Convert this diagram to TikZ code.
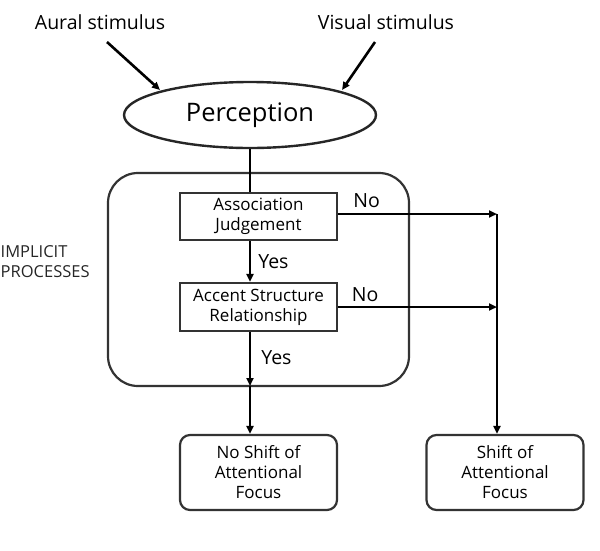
\documentclass[tikz,border=0pt]{standalone}
\usepackage{fontspec}
\setmainfont{Open Sans}
\usetikzlibrary{shapes.geometric,arrows.meta}
\begin{document}
\begin{tikzpicture}[x=1pt,y=-1pt,
  arr/.style={line width=2.6pt,-{Triangle[length=8pt,width=7pt]}},
  ln/.style={line width=2.6pt},
  boxs/.style={draw=black!80,line width=2.2pt,minimum width=157pt,align=center,font=\fontsize{17}{20}\selectfont,inner sep=0pt},
  endbox/.style={boxs,rounded corners=10pt,minimum height=75pt},
  lbl/.style={font=\fontsize{19.5}{22}\selectfont,inner sep=0pt}
]
\useasboundingbox (0,0) rectangle (600,550);
\node[lbl,font=\fontsize{19.5}{22}\selectfont] (aural) at (100,22) {Aural stimulus};
\node[lbl,font=\fontsize{19.5}{22}\selectfont] (visual) at (386,22) {Visual stimulus};
\node[draw=black!85,line width=2.4pt,ellipse,minimum width=252pt,minimum height=66pt,inner sep=0pt,font=\fontsize{25.5}{30}\selectfont] (perc) at (250,115) {Perception};
\coordinate (a1) at (107,42);
\coordinate (v1) at (375,42);
\draw[arr] (a1) -- (160,90);
\draw[arr] (v1) -- (342,90);
\draw[draw=black!80,line width=2.2pt,rounded corners=30pt] (108,173) rectangle (409,386);
\node[boxs,minimum height=47pt] (assoc) at (258.5,216.5) {Association\\Judgement};
\node[boxs,minimum height=48pt] (accent) at (258.5,307) {Accent Structure\\Relationship};
\node[endbox] (noshift) at (258.5,472.5) {No Shift of\\Attentional\\Focus};
\node[endbox] (shift) at (505,472.5) {Shift of\\Attentional\\Focus};
\coordinate (pbot) at (250,148);
\coordinate (abot) at (250,193);
\draw[ln] (perc.south -| pbot) -- (assoc.north -| abot);
\draw[arr] (assoc.south -| abot) -- node[lbl,right,xshift=7pt] {Yes} (accent.north -| abot);
\coordinate (rb) at (250,386);
\draw[arr] (accent.south -| abot) -- node[lbl,right,xshift=10pt,pos=0.48] {Yes} (rb);
\draw[arr] (rb) -- (noshift.north -| rb);
\coordinate (n1) at (497,214);
\coordinate (n2) at (497,307);
\draw[arr] (assoc.east |- n1) -- node[lbl,above,pos=0.18,yshift=5pt] {No} (n1);
\draw[arr] (accent.east |- n2) -- node[lbl,above,pos=0.17,yshift=4pt] {No} (n2);
\draw[arr] (n1) -- (shift.north -| n1);
\node[anchor=west,align=left,inner sep=0pt,font=\fontsize{16.5}{20}\selectfont,text=black!85] (impl) at (0.5,262) {IMPLICIT\\PROCESSES};
\end{tikzpicture}
\end{document}
